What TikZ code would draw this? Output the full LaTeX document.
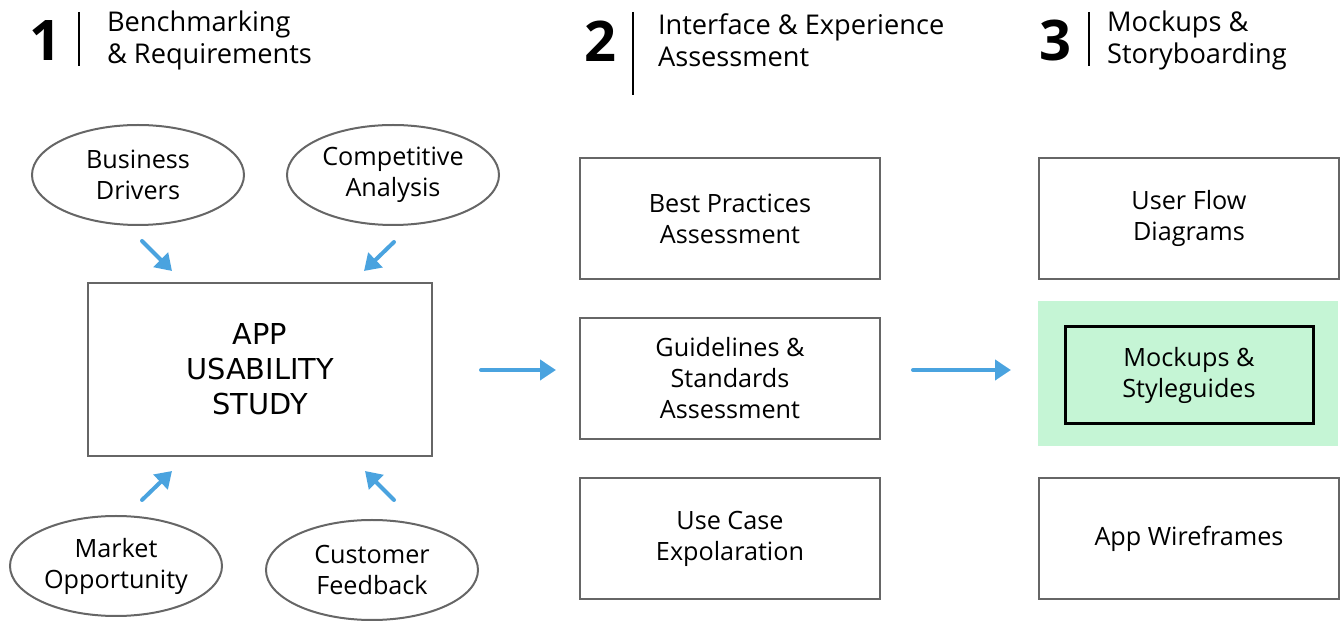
\documentclass[tikz,border=0pt]{standalone}
\usepackage{fontspec}
\setmainfont{Open Sans}
\newfontfamily\appfont{DejaVu Sans}
\usetikzlibrary{shapes.geometric, arrows.meta}

\definecolor{arrowblue}{HTML}{4AA3DF}
\definecolor{edgegray}{HTML}{666666}
\definecolor{hilite}{HTML}{C5F5D5}

\tikzset{
	stepbox/.style={draw=edgegray, line width=1pt, minimum width=150pt, minimum height=60.5pt, align=center, font=\fontsize{12.6}{15.5}\selectfont},
	bubble/.style={ellipse, draw=edgegray, line width=1pt, minimum width=106pt, minimum height=50pt, inner sep=0pt, align=center, font=\fontsize{12.6}{15.5}\selectfont},
	flow/.style={-{Triangle[length=8pt,width=10pt]}, arrowblue, line width=2pt, line cap=round},
	phase/.style={font=\fontsize{28}{28}\selectfont\bfseries},
	phasetext/.style={anchor=west, align=left, font=\fontsize{13.6}{16}\selectfont}
}

\begin{document}
\begin{tikzpicture}[x=0.5pt, y=-0.5pt]
	\useasboundingbox (0,0) rectangle (1341,625);
	
	% Phase headers
	\node[phase] (n1) at (45,41) {1};
	\draw[black, line width=0.6pt] (79,12) -- (79,66);
	\node[phasetext] (h1) at (100,40) {Benchmarking\\\& Requirements};
	
	\node[phase] (n2) at (600,41) {2};
	\draw[black, line width=0.6pt] (633,12) -- (633,95);
	\node[phasetext] (h2) at (651,40) {Interface \& Experience\\Assessment};
	
	\node[phase] (n3) at (1055,41) {3};
	\draw[black, line width=0.6pt] (1089,12) -- (1089,66);
	\node[phasetext] (h3) at (1100,40) {Mockups \&\\Storyboarding};
	
	% Column 1
	\node[bubble] (drivers) at (138,175) {Business\\Drivers};
	\node[bubble] (compet) at (393,175) {Competitive\\Analysis};
	\node[bubble] (market) at (116,566) {Market\\Opportunity};
	\node[bubble] (feedback) at (372,570) {Customer\\Feedback};
	\node[stepbox, minimum width=172pt, minimum height=86.5pt, font=\appfont\fontsize{14.4}{17.5}\selectfont] (app) at (260,369.5) {APP\\USABILITY\\STUDY};
	
	\coordinate (d1) at (142,241); \coordinate (d2) at (172,271);
	\coordinate (c1) at (394,242); \coordinate (c2) at (364,271);
	\coordinate (m1) at (142,500); \coordinate (m2) at (172,471);
	\coordinate (f1) at (394,500); \coordinate (f2) at (365,471);
	\draw[flow] (d1) -- (d2);
	\draw[flow] (c1) -- (c2);
	\draw[flow] (m1) -- (m2);
	\draw[flow] (f1) -- (f2);
	
	% Column 2
	\node[stepbox] (best) at (730,218.5) {Best Practices\\Assessment};
	\node[stepbox] (guide) at (730,378.5) {Guidelines \&\\Standards\\Assessment};
	\node[stepbox] (usecase) at (730,538.5) {Use Case\\Expolaration};
	
	% Column 3
	\node[stepbox] (userflow) at (1189,218.5) {User Flow\\Diagrams};
	\fill[hilite] (1038,301) rectangle (1338,446);
	\node[stepbox, draw=black, line width=1.5pt, minimum width=124pt, minimum height=48.5pt] (mockups) at (1189,375.5) {Mockups \&\\Styleguides};
	\node[stepbox] (wire) at (1189,538.5) {App Wireframes};
	
	% Phase arrows
	\coordinate (a1) at (481,370); \coordinate (a2) at (556,370);
	\coordinate (b1) at (913,370); \coordinate (b2) at (1011,370);
	\draw[flow] (a1) -- (a2);
	\draw[flow] (b1) -- (b2);
\end{tikzpicture}
\end{document}
